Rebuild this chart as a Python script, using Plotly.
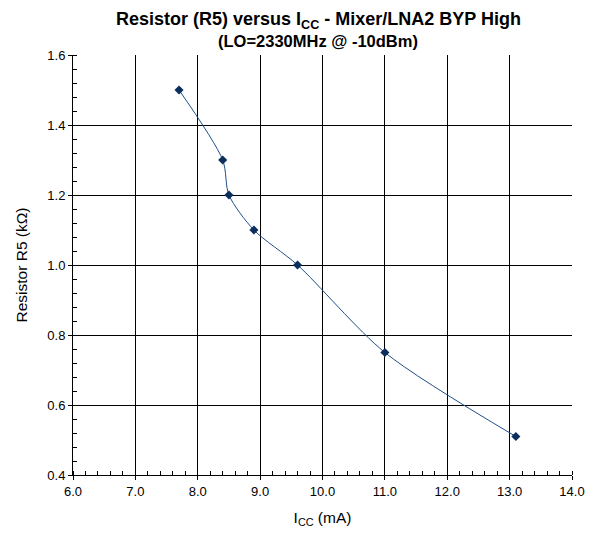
import plotly.graph_objects as go

icc_ma = [7.7, 8.4, 8.5, 8.9, 9.6, 11.0, 13.1]
r5_kohm = [1.50, 1.30, 1.20, 1.10, 1.00, 0.75, 0.51]

x_ticks = [6.0, 7.0, 8.0, 9.0, 10.0, 11.0, 12.0, 13.0, 14.0]
y_ticks = [0.4, 0.6, 0.8, 1.0, 1.2, 1.4, 1.6]

FONT = "Liberation Sans, Arial, sans-serif"

fig = go.Figure()
fig.add_trace(go.Scatter(
    x=icc_ma, y=r5_kohm, mode="lines+markers",
    line=dict(color="#1F4E89", width=1, shape="spline", smoothing=0.8),
    marker=dict(symbol="diamond", size=7, color="#0A2F5C"),
    showlegend=False,
))

axis_common = dict(
    showline=True, linecolor="black", linewidth=1, mirror=False,
    showgrid=True, gridcolor="black", gridwidth=1,
    ticks="outside", ticklen=4, tickcolor="black",
    zeroline=False, automargin=False,
    tickfont=dict(family=FONT, size=13, color="black"),
)

fig.update_xaxes(
    range=[6.0, 14.0], tickvals=x_ticks, ticktext=[f"{v:.1f}" for v in x_ticks],
    minor=dict(ticks="inside", dtick=0.2, tick0=6.0, ticklen=4, tickcolor="black", showgrid=False),
    title=dict(text="I<sub>CC</sub> (mA)", font=dict(family=FONT, size=15.5, color="black"), standoff=14),
    **axis_common,
)
fig.update_yaxes(
    range=[0.4, 1.6], tickvals=y_ticks, ticktext=[f"{v:.1f}" for v in y_ticks],
    minor=dict(ticks="inside", dtick=0.04, tick0=0.4, ticklen=4, tickcolor="black", showgrid=False),
    title=dict(text="Resistor R5 (kΩ)", font=dict(family=FONT, size=15.5, color="black"), standoff=15),
    **axis_common,
)

fig.add_annotation(
    text="<b>Resistor (R5) versus I<sub>CC</sub> - Mixer/LNA2 BYP High</b>",
    xref="paper", yref="paper", x=0.491, y=1.0, yshift=35, showarrow=False,
    font=dict(family=FONT, size=18, color="black"), xanchor="center", yanchor="middle",
)
fig.add_annotation(
    text="<b>(LO=2330MHz @ -10dBm)</b>",
    xref="paper", yref="paper", x=0.491, y=1.0, yshift=14, showarrow=False,
    font=dict(family=FONT, size=16.5, color="black"), xanchor="center", yanchor="middle",
)

# The page body has a default 8px margin; compensate so the plot area lands
# at the reference position in the 597x533 window.
fig.update_layout(
    width=589, height=525,
    margin=dict(l=65, r=25, t=47, b=58),
    paper_bgcolor="white", plot_bgcolor="white",
    font=dict(family=FONT, color="black"),
)

fig.write_html("out.html")
